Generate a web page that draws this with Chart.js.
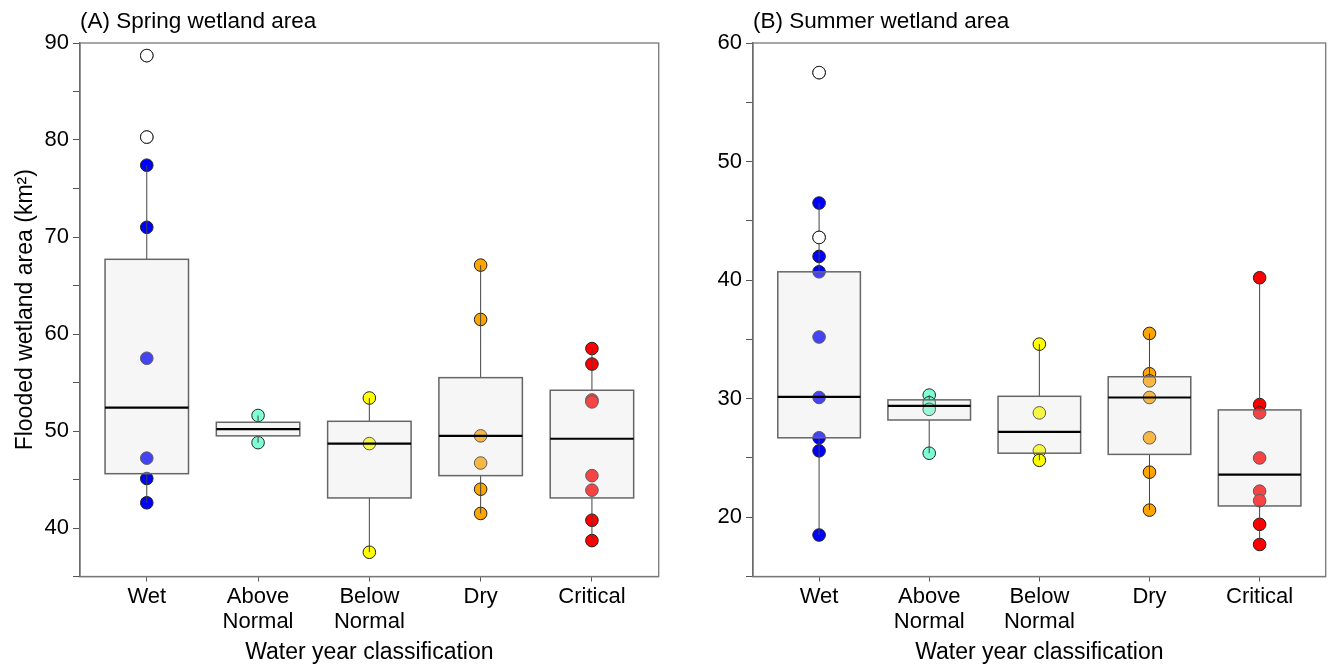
<!DOCTYPE html>
<html>
<head>
<meta charset="utf-8">
<script src="https://cdn.jsdelivr.net/npm/chart.js@4"></script>
<style>
  body { margin: 0; background: #fff; }
  .panel { position: absolute; top: 0; }
</style>
</head>
<body>
<div class="panel" style="left:0"><canvas id="springChart" width="666" height="666"></canvas></div>
<div class="panel" style="left:666px"><canvas id="summerChart" width="667" height="666"></canvas></div>
<script>
const classes = [['Wet'], ['Above', 'Normal'], ['Below', 'Normal'], ['Dry'], ['Critical']];
const classColors = ['#0000ff', '#7fffd4', '#ffff00', '#ffa500', '#ff0000'];

// spring points per class
const springWet = [88.7, 80.3, 77.4, 71.0, 57.5, 47.2, 45.1, 42.6];
const springAbove = [51.6, 48.8];
const springBelow = [53.4, 48.7, 37.5];
const springDry = [67.1, 61.5, 49.5, 46.7, 44.0, 41.5];
const springCritical = [58.5, 56.9, 53.2, 53.0, 45.4, 43.9, 40.8, 38.7];
const springOutliers = [[88.7, 80.3], [], [], [], []];
// box stats: lower whisker, q1, median, q3, upper whisker
const springLow = [42.6, 48.8, 37.5, 41.5, 38.7];
const springQ1 = [45.6, 49.5, 43.1, 45.4, 43.1];
const springMedian = [52.4, 50.2, 48.7, 49.5, 49.2];
const springQ3 = [67.7, 50.9, 51.0, 55.5, 54.2];
const springHigh = [77.4, 51.6, 53.4, 67.1, 58.5];

// summer points per class
const summerWet = [57.5, 46.5, 43.6, 42.0, 40.7, 35.2, 30.1, 26.7, 25.6, 18.5];
const summerAbove = [30.3, 29.65, 29.1, 25.4];
const summerBelow = [34.6, 28.8, 25.6, 24.8];
const summerDry = [35.5, 32.1, 31.5, 30.1, 26.7, 23.8, 20.6];
const summerCritical = [40.2, 29.5, 28.8, 25.0, 22.2, 21.4, 19.4, 17.7];
const summerOutliers = [[57.5, 43.6], [], [], [], []];
const summerLow = [18.5, 25.4, 24.8, 20.6, 17.7];
const summerQ1 = [26.7, 28.2, 25.4, 25.3, 20.95];
const summerMedian = [30.15, 29.4, 27.2, 30.1, 23.6];
const summerQ3 = [40.7, 29.9, 30.2, 31.85, 29.05];
const summerHigh = [46.5, 30.3, 34.6, 35.5, 40.2];

const font = { family: 'Liberation Sans, Arial, sans-serif', size: 22 };
const titleFont = { family: font.family, size: 23 };

function makePanel(id, title, groups, outliers, stats, yMin, yMax, yWidth, padRight, yTitle) {
  const pts = [], cols = [];
  groups.forEach((g, i) => g.forEach(v => { pts.push({ x: i + 1, y: v }); cols.push(classColors[i]); }));
  const outPts = [];
  outliers.forEach((g, i) => g.forEach(v => outPts.push({ x: i + 1, y: v })));

  const boxPlugin = {
    id: 'boxes',
    beforeDatasetsDraw(chart) {
      const { ctx, chartArea: a } = chart;
      ctx.save();
      ctx.strokeStyle = '#777';
      ctx.lineWidth = 1.3;
      ctx.strokeRect(a.left, a.top, a.right - a.left, a.bottom - a.top);
      ctx.restore();
    },
    // datasets are drawn last-to-first, so the points (index 1) come before the boxes and the outliers
    afterDatasetDraw(chart, args) {
      if (args.index !== 1) return;
      const { ctx } = chart;
      const x = chart.scales.x, y = chart.scales.y;
      ctx.save();
      for (let i = 0; i < 5; i++) {
        const cx = x.getPixelForValue(i + 1);
        const l = x.getPixelForValue(i + 1 - 0.375), r = x.getPixelForValue(i + 1 + 0.375);
        const [lo, q1, md, q3, hi] = stats.map(s => y.getPixelForValue(s[i]));
        ctx.strokeStyle = '#444';
        ctx.lineWidth = 1;
        ctx.beginPath();
        ctx.moveTo(cx, q3); ctx.lineTo(cx, hi);
        ctx.moveTo(cx, q1); ctx.lineTo(cx, lo);
        ctx.stroke();
        ctx.fillStyle = 'rgba(225,225,225,0.3)';
        ctx.fillRect(l, q3, r - l, q1 - q3);
        ctx.strokeStyle = '#666';
        ctx.lineWidth = 1.5;
        ctx.strokeRect(l, q3, r - l, q1 - q3);
        ctx.strokeStyle = '#000';
        ctx.lineWidth = 2.2;
        ctx.beginPath();
        ctx.moveTo(l, md); ctx.lineTo(r, md);
        ctx.stroke();
      }
      ctx.restore();
    },
    afterDraw(chart) {
      const { ctx, chartArea: a } = chart;
      ctx.save();
      ctx.fillStyle = '#000';
      ctx.font = '22.5px ' + font.family;
      ctx.textBaseline = 'alphabetic';
      ctx.fillText(title, a.left, 28);
      ctx.restore();
    }
  };

  return new Chart(document.getElementById(id), {
    type: 'scatter',
    data: {
      datasets: [{
        data: outPts,
        pointRadius: 6.3,
        pointHoverRadius: 6.3,
        pointBackgroundColor: '#fff',
        pointBorderColor: '#222',
        pointBorderWidth: 1
      }, {
        data: pts,
        pointRadius: 6.3,
        pointHoverRadius: 6.3,
        pointBackgroundColor: cols,
        pointBorderColor: '#222',
        pointBorderWidth: 1
      }]
    },
    options: {
      responsive: false,
      animation: false,
      events: [],
      layout: { padding: { top: 43, right: padRight, left: 0, bottom: 0 } },
      plugins: { legend: { display: false }, tooltip: { enabled: false } },
      scales: {
        x: {
          type: 'linear',
          min: 0.4,
          max: 5.6,
          afterBuildTicks: s => { s.ticks = [1, 2, 3, 4, 5].map(v => ({ value: v })); },
          afterFit: s => { s.height = 89.5; },
          grid: { drawOnChartArea: false, tickLength: 5, color: '#555' },
          border: { color: '#555', width: 1.3 },
          ticks: {
            autoSkip: false,
            maxRotation: 0,
            padding: 3,
            color: '#000',
            font: { ...font, lineHeight: 1.14 },
            callback: v => classes[v - 1]
          },
          title: { display: true, text: 'Water year classification', color: '#000', font: titleFont, padding: { top: 0, bottom: 0 } }
        },
        y: {
          min: yMin,
          max: yMax,
          afterFit: s => { s.width = yWidth; },
          grid: { drawOnChartArea: false, tickLength: 7, color: '#555' },
          border: { color: '#555', width: 1.3 },
          ticks: {
            stepSize: 5,
            padding: 4,
            color: '#000',
            font,
            callback: v => (v % 10 === 0 ? v : '')
          },
          title: { display: !!yTitle, text: yTitle, color: '#000', font: titleFont, padding: { top: 12, bottom: 0 } }
        }
      }
    },
    plugins: [boxPlugin]
  });
}

makePanel('springChart', '(A) Spring wetland area',
  [springWet, springAbove, springBelow, springDry, springCritical], springOutliers,
  [springLow, springQ1, springMedian, springQ3, springHigh], 35, 90, 80, 6, 'Flooded wetland area (km²)');

makePanel('summerChart', '(B) Summer wetland area',
  [summerWet, summerAbove, summerBelow, summerDry, summerCritical], summerOutliers,
  [summerLow, summerQ1, summerMedian, summerQ3, summerHigh], 15, 60, 87, 4, '');
</script>
</body>
</html>
